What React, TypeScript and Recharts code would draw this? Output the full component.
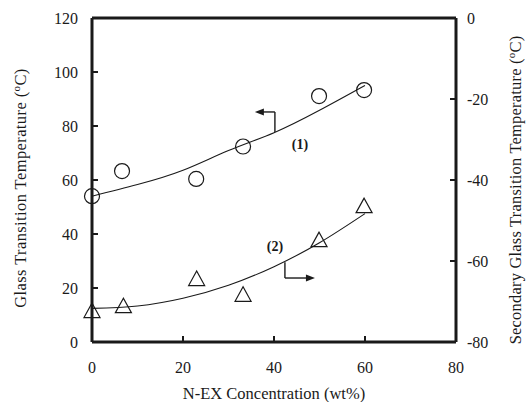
import React from 'react';
import { ComposedChart, Line, Scatter, XAxis, YAxis, ReferenceLine, ReferenceDot } from 'recharts';

// measured points: primary Tg (circles, left axis)
const tgPrimary = [
  { x: 0, y: 54 },
  { x: 6.6, y: 63.3 },
  { x: 22.9, y: 60.4 },
  { x: 33.2, y: 72.4 },
  { x: 49.9, y: 91.1 },
  { x: 59.8, y: 93.3 },
];

// measured points: secondary Tg (triangles, right axis)
const tgSecondary = [
  { x: 0, y: -72.6 },
  { x: 6.9, y: -71.4 },
  { x: 23, y: -64.7 },
  { x: 33.2, y: -68.6 },
  { x: 49.9, y: -55.1 },
  { x: 59.8, y: -46.7 },
];

// fitted curves
const fitPrimary = [
  { x: 0, y: 54 },
  { x: 10, y: 58.3 },
  { x: 20, y: 63.6 },
  { x: 30, y: 70.9 },
  { x: 40, y: 77.5 },
  { x: 50, y: 85.8 },
  { x: 60, y: 95 },
];

const fitSecondary = [
  { x: 0, y: -71.7 },
  { x: 10, y: -71.1 },
  { x: 20, y: -69.2 },
  { x: 30, y: -66 },
  { x: 40, y: -61.4 },
  { x: 50, y: -55.5 },
  { x: 60, y: -48.3 },
];

const xTicks = [0, 20, 40, 60, 80];
const leftTicks = [0, 20, 40, 60, 80, 100, 120];
const rightTicks = [-80, -60, -40, -20, 0];

const FONT = '"Liberation Serif", "DejaVu Serif", serif';
const INK = '#1a1a1a';
const TICK_FS = 16;
const LABEL_FS = 16.5;

const LeftTick = (props: any) => {
  const { x, y, payload } = props;
  const ax = x + 14;
  const end = payload.value === 0 || payload.value === 120;
  return (
    <g>
      {!end && <line x1={ax} x2={ax + 6} y1={y} y2={y} stroke={INK} strokeWidth={2} />}
      <text x={x} y={y} dy="0.35em" textAnchor="end" fontFamily={FONT} fontSize={TICK_FS} fill={INK}>
        {payload.value}
      </text>
    </g>
  );
};

const RightTick = (props: any) => {
  const { x, y, payload } = props;
  const ax = x - 11;
  const end = payload.value === 0 || payload.value === -80;
  return (
    <g>
      {!end && <line x1={ax} x2={ax - 6} y1={y} y2={y} stroke={INK} strokeWidth={2} />}
      <text x={x} y={y} dy="0.35em" textAnchor="start" fontFamily={FONT} fontSize={TICK_FS} fill={INK}>
        {payload.value}
      </text>
    </g>
  );
};

const BottomTick = (props: any) => {
  const { x, y, payload } = props;
  const ay = y - 25;
  const end = payload.value === 0 || payload.value === 80;
  return (
    <g>
      {!end && <line x1={x} x2={x} y1={ay} y2={ay - 6} stroke={INK} strokeWidth={2} />}
      <text x={x} y={y} dy="0.35em" textAnchor="middle" fontFamily={FONT} fontSize={TICK_FS} fill={INK}>
        {payload.value}
      </text>
    </g>
  );
};

const Circle = (props: any) => (
  <circle cx={props.cx} cy={props.cy} r={7.5} fill="#fff" fillOpacity={0} stroke={INK} strokeWidth={1.2} />
);

const Tri = (props: any) => {
  const { cx, cy } = props;
  const pts = `${cx},${cy - 9} ${cx - 8},${cy + 5.5} ${cx + 8},${cy + 5.5}`;
  return <polygon points={pts} fill="none" stroke={INK} strokeWidth={1.2} />;
};

const HeadLeft = (props: any) => {
  const { cx, cy } = props;
  return <polygon points={`${cx},${cy} ${cx + 9},${cy - 3.5} ${cx + 9},${cy + 3.5}`} fill={INK} />;
};

const HeadRight = (props: any) => {
  const { cx, cy } = props;
  return <polygon points={`${cx},${cy} ${cx - 9},${cy - 3.5} ${cx - 9},${cy + 3.5}`} fill={INK} />;
};

const Tag = (text: string) => (props: any) => (
  <text x={props.cx} y={props.cy} dy="0.35em" textAnchor="middle" fontFamily={FONT} fontSize={14} fontWeight="bold" fill={INK}>
    {text}
  </text>
);

const LeftLabel = (props: any) => {
  const { viewBox } = props;
  const cx = viewBox.x + 20;
  const cy = viewBox.y + viewBox.height / 2 + 8;
  return (
    <text x={cx} y={cy} transform={`rotate(-90 ${cx} ${cy})`} textAnchor="middle" dy="0.35em" fontFamily={FONT} fontSize={LABEL_FS} letterSpacing={0.4} fill={INK}>
      Glass Transition Temperature (<tspan fontSize={11} dy="-6">o</tspan><tspan dy="6">C)</tspan>
    </text>
  );
};

const RightLabel = (props: any) => {
  const { viewBox } = props;
  const cx = viewBox.x + 59;
  const cy = viewBox.y + viewBox.height / 2 + 10;
  return (
    <text x={cx} y={cy} transform={`rotate(-90 ${cx} ${cy})`} textAnchor="middle" dy="0.35em" fontFamily={FONT} fontSize={LABEL_FS} letterSpacing={0.2} fill={INK}>
      Secondary Glass Transition Temperature (<tspan fontSize={11} dy="-6">o</tspan><tspan dy="6">C)</tspan>
    </text>
  );
};

const BottomLabel = (props: any) => {
  const { viewBox } = props;
  const cx = viewBox.x + viewBox.width / 2;
  const cy = viewBox.y + 51;
  return (
    <text x={cx} y={cy} textAnchor="middle" dy="0.35em" fontFamily={FONT} fontSize={LABEL_FS} fill={INK}>
      N-EX Concentration (wt%)
    </text>
  );
};

const App = () => {
  return (
    <div style={{ position: 'absolute', left: 0, top: 0, background: '#fff' }}>
      <ComposedChart width={529} height={402} margin={{ top: 18, right: 0, bottom: 0, left: 0 }}>
        <XAxis
          dataKey="x"
          type="number"
          domain={[0, 80]}
          ticks={xTicks}
          height={60}
          axisLine={{ stroke: INK, strokeWidth: 3 }}
          tickLine={false}
          tickSize={0}
          tickMargin={25}
          tick={BottomTick}
          label={{ content: BottomLabel }}
        />
        <YAxis
          yAxisId="left"
          dataKey="y"
          type="number"
          domain={[0, 120]}
          ticks={leftTicks}
          width={92}
          axisLine={{ stroke: INK, strokeWidth: 3 }}
          tickLine={false}
          tickSize={0}
          tickMargin={14}
          tick={LeftTick}
          label={{ content: LeftLabel }}
        />
        <YAxis
          yAxisId="right"
          orientation="right"
          dataKey="y"
          type="number"
          domain={[-80, 0]}
          ticks={rightTicks}
          width={73}
          axisLine={{ stroke: INK, strokeWidth: 3 }}
          tickLine={false}
          tickSize={0}
          tickMargin={11}
          tick={RightTick}
          label={{ content: RightLabel }}
        />
        <ReferenceLine yAxisId="left" y={120} stroke={INK} strokeWidth={3} />

        <Line data={fitPrimary} dataKey="y" yAxisId="left" type="natural" stroke={INK} strokeWidth={1.1} dot={false} isAnimationActive={false} />
        <Line data={fitSecondary} dataKey="y" yAxisId="right" type="natural" stroke={INK} strokeWidth={1.1} dot={false} isAnimationActive={false} />
        <Scatter data={tgPrimary} dataKey="y" yAxisId="left" shape={Circle} isAnimationActive={false} />
        <Scatter data={tgSecondary} dataKey="y" yAxisId="right" shape={Tri} isAnimationActive={false} />

        {/* arrow (1) pointing to left axis */}
        <ReferenceLine yAxisId="left" segment={[{ x: 40.2, y: 77.8 }, { x: 40.2, y: 85.2 }]} stroke={INK} strokeWidth={1.4} />
        <ReferenceLine yAxisId="left" segment={[{ x: 40.2, y: 85.2 }, { x: 37.5, y: 85.2 }]} stroke={INK} strokeWidth={1.4} />
        <ReferenceDot yAxisId="left" x={35.8} y={85.2} shape={HeadLeft} />
        <ReferenceDot yAxisId="left" x={45.7} y={73.3} shape={Tag('(1)')} />

        {/* arrow (2) pointing to right axis */}
        <ReferenceLine yAxisId="right" segment={[{ x: 42.4, y: -60.3 }, { x: 42.4, y: -64.2 }]} stroke={INK} strokeWidth={1.4} />
        <ReferenceLine yAxisId="right" segment={[{ x: 42.4, y: -64.2 }, { x: 47.2, y: -64.2 }]} stroke={INK} strokeWidth={1.4} />
        <ReferenceDot yAxisId="right" x={49} y={-64.2} shape={HeadRight} />
        <ReferenceDot yAxisId="right" x={40.2} y={-56.3} shape={Tag('(2)')} />
      </ComposedChart>
    </div>
  );
};

export default App;
